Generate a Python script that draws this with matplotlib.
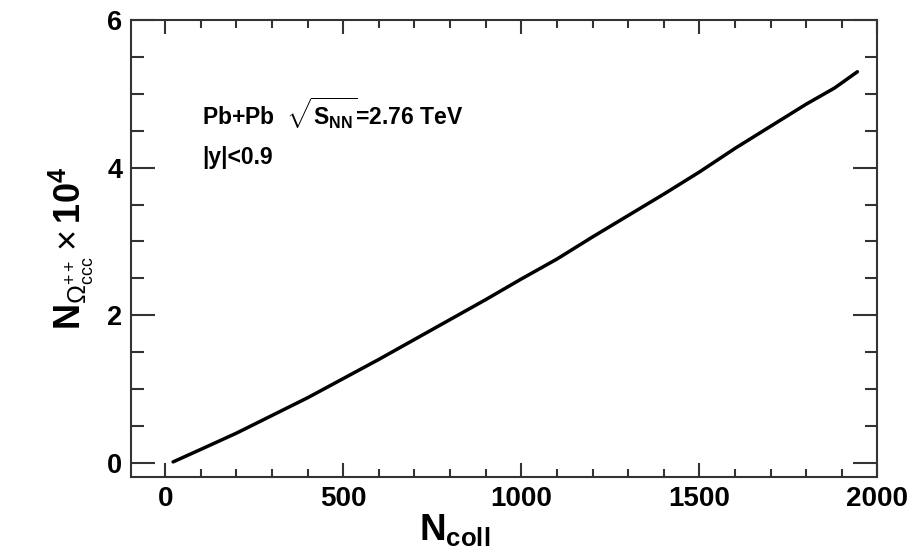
import numpy as np
import matplotlib
matplotlib.use("Agg")
import matplotlib.pyplot as plt
from matplotlib.ticker import MultipleLocator

plt.rcParams['font.family'] = ['Liberation Sans', 'DejaVu Sans']
plt.rcParams['mathtext.fontset'] = 'custom'
plt.rcParams['mathtext.rm'] = 'Liberation Sans'
plt.rcParams['mathtext.it'] = 'Liberation Sans:italic'
plt.rcParams['mathtext.bf'] = 'Liberation Sans:bold'

# N_coll vs yield (x 10^4)
n_coll = [22, 100, 200, 300, 400, 500, 600, 700, 800, 900, 1000, 1100, 1200,
          1300, 1400, 1500, 1600, 1700, 1800, 1880, 1944]
n_omega = [0.01, 0.18, 0.40, 0.64, 0.88, 1.14, 1.40, 1.67, 1.94, 2.21, 2.49, 2.76, 3.06,
           3.35, 3.64, 3.94, 4.26, 4.56, 4.86, 5.08, 5.30]

fig = plt.figure(figsize=(9.18, 5.59), dpi=100)
ax = fig.add_axes([0.1424, 0.146, 0.8133, 0.818])

ax.plot(n_coll, n_omega, color='black', linewidth=2.5, solid_capstyle='round')

ax.set_xlim(-97, 2000)
ax.set_ylim(-0.2, 6)

ax.xaxis.set_major_locator(MultipleLocator(500))
ax.xaxis.set_minor_locator(MultipleLocator(100))
ax.yaxis.set_major_locator(MultipleLocator(2))
ax.yaxis.set_minor_locator(MultipleLocator(0.5))

ax.tick_params(axis='both', which='both', direction='in', top=True, right=True,
               width=1.5, color='#333333')
ax.tick_params(axis='x', which='major', length=10, labelsize=20, pad=6)
ax.tick_params(axis='x', which='minor', length=5.5)
ax.tick_params(axis='y', which='major', length=17.5, labelsize=19.5, pad=6)
ax.tick_params(axis='y', which='minor', length=9)
for lab in ax.get_xticklabels() + ax.get_yticklabels():
    lab.set_fontweight('bold')
for sp in ax.spines.values():
    sp.set_linewidth(1.5)
    sp.set_color('#333333')

ax.set_xlabel(r'$\mathbf{N}_{\mathbf{coll}}$', fontsize=26.5, labelpad=0)
ax.xaxis.set_label_coords(0.434, -0.075, transform=ax.transAxes)
ax.xaxis.label.set_va('top')
ax.set_ylabel(r'$\mathbf{N}_{\Omega^{++}_{\mathrm{ccc}}}\times\mathbf{10^{4}}$', fontsize=26, labelpad=8)

ax.text(0.096, 0.77, r'Pb+Pb  $\sqrt{\mathbf{S_{NN}}}$=2.76 TeV',
        transform=ax.transAxes, fontsize=16.5, fontweight='bold')
ax.text(0.096, 0.686, '|y|<0.9', transform=ax.transAxes, fontsize=16.5, fontweight='bold')

fig.savefig('out.png', dpi=100)
